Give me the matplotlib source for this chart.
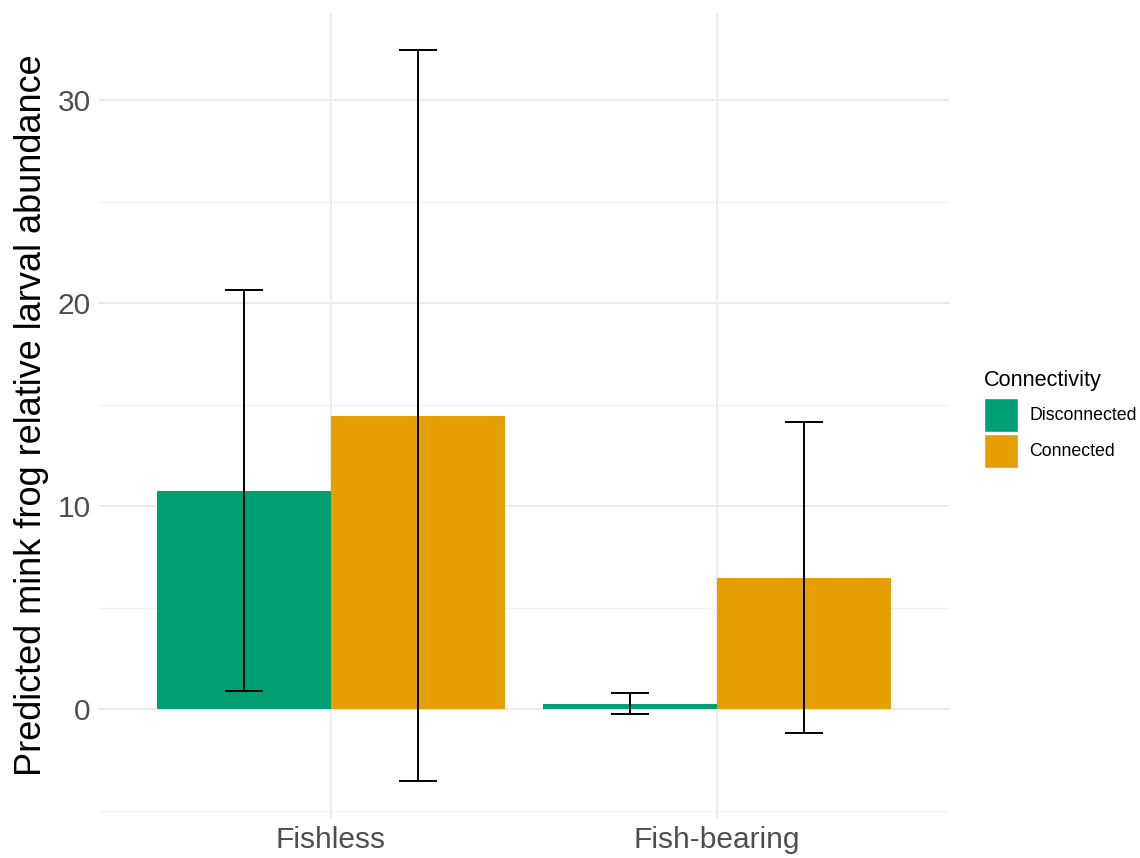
import numpy as np
import matplotlib.pyplot as plt
from matplotlib.patches import Patch

plt.rcParams['font.family'] = ['Liberation Sans', 'DejaVu Sans']

# data
habitats = ['Fishless', 'Fish-bearing']
groups = ['Disconnected', 'Connected']
colors = ['#009E73', '#E69F00']
means = {
    'Disconnected': [10.74, 0.25],
    'Connected': [14.43, 6.45],
}
lower = {
    'Disconnected': [0.89, -0.25],
    'Connected': [-3.55, -1.18],
}
upper = {
    'Disconnected': [20.64, 0.79],
    'Connected': [32.5, 14.14],
}

fig = plt.figure(figsize=(11.4, 8.58), dpi=100)
ax = fig.add_axes([99 / 1140, 1 - 818 / 858, (949 - 99) / 1140, (818 - 13) / 858])

x = np.arange(len(habitats)) + 1
width = 0.45
offsets = [-width / 2, width / 2]

for g, c, off in zip(groups, colors, offsets):
    m = np.array(means[g])
    lo = np.array(lower[g])
    hi = np.array(upper[g])
    ax.bar(x + off, m, width=width, color=c, edgecolor='none', zorder=2)
    ax.errorbar(x + off, m, yerr=[m - lo, hi - m], fmt='none', ecolor='black',
                elinewidth=1.4, capsize=13.7, capthick=1.4, zorder=3)

ax.set_xlim(0.4, 2.6)
ax.set_ylim(-5.35, 34.3)
ax.set_xticks(x)
ax.set_xticklabels(habitats)
ax.set_yticks([0, 10, 20, 30])
ax.set_yticks([-5, 5, 15, 25], minor=True)

# theme_minimal style grid
ax.grid(True, which='major', color='#EBEBEB', linewidth=1.5, zorder=0)
ax.grid(True, which='minor', axis='y', color='#F2F2F2', linewidth=0.9, zorder=0)
ax.set_axisbelow(True)
for s in ax.spines.values():
    s.set_visible(False)
ax.tick_params(which='both', length=0, labelsize=21.5, labelcolor='#4D4D4D', pad=6)

ax.set_ylabel('Predicted mink frog relative larval abundance', fontsize=26)
ax.yaxis.set_label_coords(-0.059, 0.5)

handles = [Patch(facecolor=c, edgecolor='white', linewidth=1.0, label=g) for g, c in zip(groups, colors)]
leg = fig.legend(handles=handles, title='Connectivity', loc='upper left',
                 bbox_to_anchor=(975 / 1140, 1 - 361 / 858), frameon=False,
                 fontsize=12.8, title_fontsize=15.6, handlelength=1.9, handleheight=2.55,
                 labelspacing=0.12, borderpad=0, handletextpad=0.65)
leg._legend_box.align = 'left'
leg._legend_box.sep = 5

fig.savefig('out.png', dpi=100)
